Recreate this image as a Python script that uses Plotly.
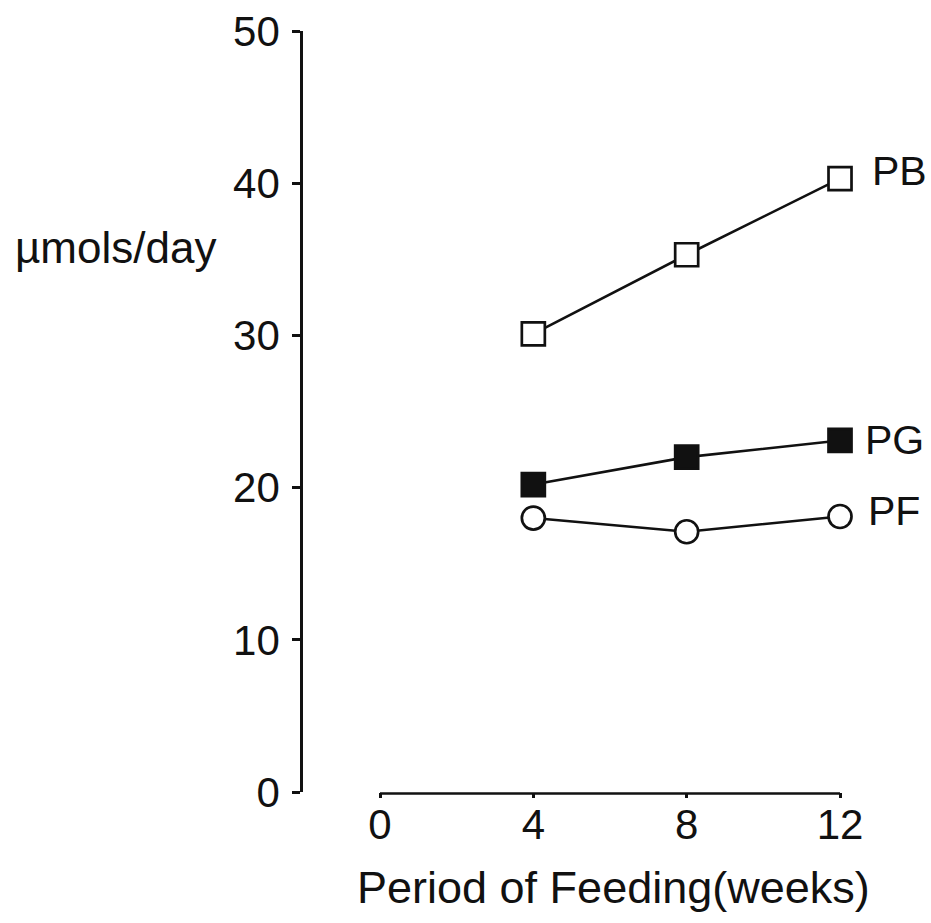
import plotly.graph_objects as go

# Feeding period (weeks) and daily excretion (µmol/day) per group
weeks = [4, 8, 12]
pb_values = [30.1, 35.3, 40.3]
pg_values = [20.2, 22.0, 23.1]
pf_values = [18.0, 17.1, 18.1]

x_ticks = [0, 4, 8, 12]
y_ticks = [0, 10, 20, 30, 40, 50]

INK = "#111111"
FONT = "Liberation Sans, Arial, sans-serif"

series = [
    # name, values, marker symbol, label offsets (px)
    ("PB", pb_values, "square-open", 30, 8),
    ("PG", pg_values, "square", 23, 0),
    ("PF", pf_values, "circle-open", 26, 6),
]

fig = go.Figure()

for name, vals, symbol, dx, dy in series:
    filled = not symbol.endswith("open")
    fig.add_trace(go.Scatter(
        x=weeks, y=vals, mode="lines+markers", name=name,
        line=dict(color=INK, width=2.6),
        marker=dict(
            symbol="square" if symbol.startswith("square") else "circle",
            size=23,
            color=INK if filled else "white",
            line=dict(color=INK, width=2.7),
        ),
        cliponaxis=False,
        showlegend=False,
    ))
    fig.add_annotation(
        x=weeks[-1], y=vals[-1], xref="x", yref="y",
        text=name, showarrow=False,
        xanchor="left", yanchor="middle",
        xshift=dx, yshift=dy,
        font=dict(family=FONT, size=41, color=INK),
    )

# Detached x-axis baseline from 0 to 12 weeks
fig.add_shape(
    type="line", xref="x", yref="paper",
    x0=x_ticks[0], x1=x_ticks[-1], y0=-0.002, y1=-0.002,
    line=dict(color=INK, width=2.6),
)

fig.add_annotation(
    xref="paper", yref="y", x=0, y=35.8,
    text="µmols/day", showarrow=False,
    xanchor="left", yanchor="middle", xshift=-290,
    font=dict(family=FONT, size=44, color=INK),
)

fig.add_annotation(
    xref="x", yref="paper", x=6.1, y=0,
    text="Period of Feeding(weeks)", showarrow=False,
    xanchor="center", yanchor="middle", yshift=-95,
    font=dict(family=FONT, size=45, color=INK),
)

fig.update_layout(
    width=931, height=923,
    margin=dict(l=303, r=31, t=31, b=131, autoexpand=False),
    paper_bgcolor="white", plot_bgcolor="white",
    xaxis=dict(
        range=[-2.009, 13.565],
        automargin=False,
        showgrid=False, zeroline=False, showline=False,
        tickmode="array", tickvals=x_ticks,
        ticks="outside", ticklen=5, tickwidth=2.6, tickcolor=INK,
        tickfont=dict(family=FONT, size=42, color=INK),
        ticklabelstandoff=-9,
    ),
    yaxis=dict(
        range=[0, 50],
        automargin=False,
        showgrid=False, zeroline=False,
        showline=True, linecolor=INK, linewidth=2.7,
        tickmode="array", tickvals=y_ticks,
        ticks="outside", ticklen=8, tickwidth=2.6, tickcolor=INK,
        tickfont=dict(family=FONT, size=42, color=INK),
        ticklabelstandoff=4,
    ),
)

fig.write_html("out.html")
